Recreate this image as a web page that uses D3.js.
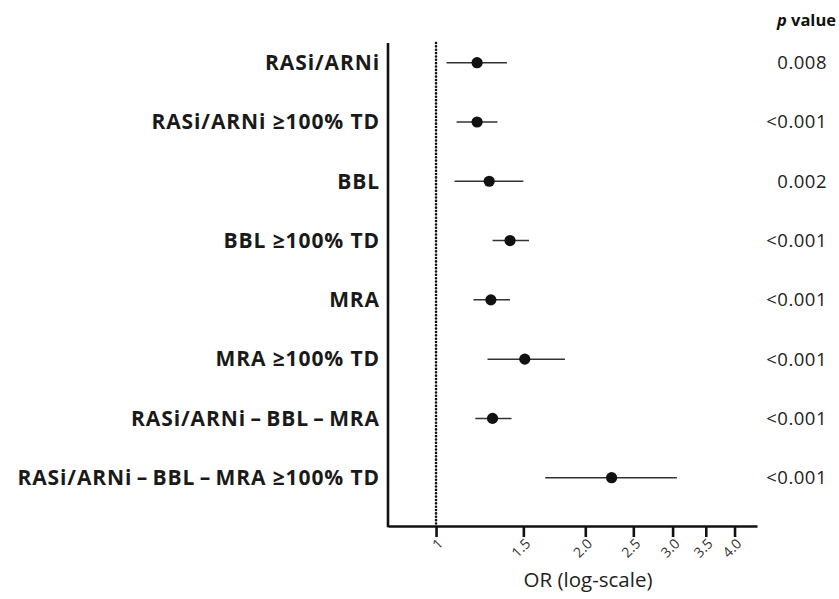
<!DOCTYPE html>
<html>
<head>
<meta charset="utf-8">
<script src="https://cdn.jsdelivr.net/npm/d3@7"></script>
<style>
  body { margin: 0; background: #fff; }
  svg { display: block; }
  text { font-family: "Open Sans", Lato, sans-serif; }
</style>
</head>
<body>
<div id="chart"></div>
<script>
// forest plot data
var labels = [
  "RASi/ARNi",
  "RASi/ARNi \u2265100% TD",
  "BBL",
  "BBL \u2265100% TD",
  "MRA",
  "MRA \u2265100% TD",
  "RASi/ARNi\u2009\u2013\u2009BBL\u2009\u2013\u2009MRA",
  "RASi/ARNi\u2009\u2013\u2009BBL\u2009\u2013\u2009MRA \u2265100% TD"
];
var oddsRatio = [1.21, 1.21, 1.28, 1.41, 1.29, 1.51, 1.30, 2.26];
var ciLow     = [1.05, 1.10, 1.09, 1.30, 1.19, 1.27, 1.20, 1.66];
var ciHigh    = [1.39, 1.33, 1.50, 1.54, 1.41, 1.82, 1.42, 3.06];
var pValues   = ["0.008", "<0.001", "0.002", "<0.001", "<0.001", "<0.001", "<0.001", "<0.001"];
var xTicks    = [1, 1.5, 2, 2.5, 3, 3.5, 4];
var xTickLabels = ["1", "1.5", "2.0", "2.5", "3.0", "3.5", "4.0"];

var width = 839, height = 599;
var plotLeft = 388, plotRight = 757, plotTop = 43, plotBottom = 526;

var svg = d3.select("#chart").append("svg")
  .attr("width", width)
  .attr("height", height)

var x = d3.scaleLog().domain([0.8, 4.44]).range([plotLeft, plotRight]);
var y = d3.scalePoint().domain(labels).range([62.7, 477.7]);

// x axis
var xAxis = svg.append("g")
  .attr("transform", "translate(0," + plotBottom + ")")
  .call(d3.axisBottom(x)
    .tickValues(xTicks)
    .tickFormat(function(d, i) { return xTickLabels[i]; })
    .tickSize(11)
    .tickSizeOuter(0))
xAxis.select(".domain").attr("stroke", "#111").attr("stroke-width", 2.6)
xAxis.selectAll(".tick line").attr("stroke", "#111").attr("stroke-width", 2.6)
xAxis.selectAll(".tick text")
  .attr("font-size", 14)
  .attr("fill", "#333")
  .attr("text-anchor", "end")
  .attr("y", 0)
  .attr("dy", "0.35em")
  .attr("transform", "translate(4,15) rotate(-45)")

// y axis line
svg.append("line")
  .attr("x1", plotLeft).attr("x2", plotLeft)
  .attr("y1", plotTop).attr("y2", plotBottom + 1.3)
  .attr("stroke", "#111")
  .attr("stroke-width", 2.6)

// reference line at OR = 1
svg.append("line")
  .attr("x1", x(1)).attr("x2", x(1))
  .attr("y1", plotTop).attr("y2", plotBottom)
  .attr("stroke", "#111")
  .attr("stroke-width", 2.6)
  .attr("stroke-linecap", "round")
  .attr("stroke-dasharray", "0.01,3.35")

// category labels
var yAxis = svg.append("g")
  .attr("transform", "translate(" + plotLeft + ",0)")
  .call(d3.axisLeft(y).tickSize(0).tickPadding(8))
yAxis.select(".domain").remove()
yAxis.selectAll(".tick text")
  .attr("font-size", 21)
  .attr("font-weight", "bold")
  .attr("letter-spacing", "0.9px")
  .attr("fill", "#1a1a1a")

// confidence intervals
svg.selectAll(".ci")
  .data(labels)
  .enter().append("line")
  .attr("class", "ci")
  .attr("x1", function(d, i) { return x(ciLow[i]); })
  .attr("x2", function(d, i) { return x(ciHigh[i]); })
  .attr("y1", function(d) { return y(d); })
  .attr("y2", function(d) { return y(d); })
  .attr("stroke", "#333")
  .attr("stroke-width", 1.5)

// point estimates
svg.selectAll(".pt")
  .data(labels)
  .enter().append("circle")
  .attr("class", "pt")
  .attr("cx", function(d, i) { return x(oddsRatio[i]); })
  .attr("cy", function(d) { return y(d); })
  .attr("r", 5.6)
  .attr("fill", "#111")

// p values
svg.selectAll(".pv")
  .data(labels)
  .enter().append("text")
  .attr("class", "pv")
  .attr("x", 827)
  .attr("y", function(d) { return y(d); })
  .attr("dy", "0.35em")
  .attr("text-anchor", "end")
  .attr("font-size", 18.5)
  .attr("letter-spacing", "0.5px")
  .attr("fill", "#222")
  .text(function(d, i) { return pValues[i]; })

// header
var head = svg.append("text")
  .attr("x", 836)
  .attr("y", 26)
  .attr("text-anchor", "end")
  .attr("font-size", 16.5)
  .attr("font-weight", "bold")
  .attr("fill", "#111")
head.append("tspan").attr("font-style", "italic").text("p")
head.append("tspan").text(" value")

// x axis title
svg.append("text")
  .attr("x", 588)
  .attr("y", 587)
  .attr("text-anchor", "middle")
  .attr("font-size", 20.5)
  .attr("fill", "#222")
  .text("OR (log-scale)")
</script>
</body>
</html>
